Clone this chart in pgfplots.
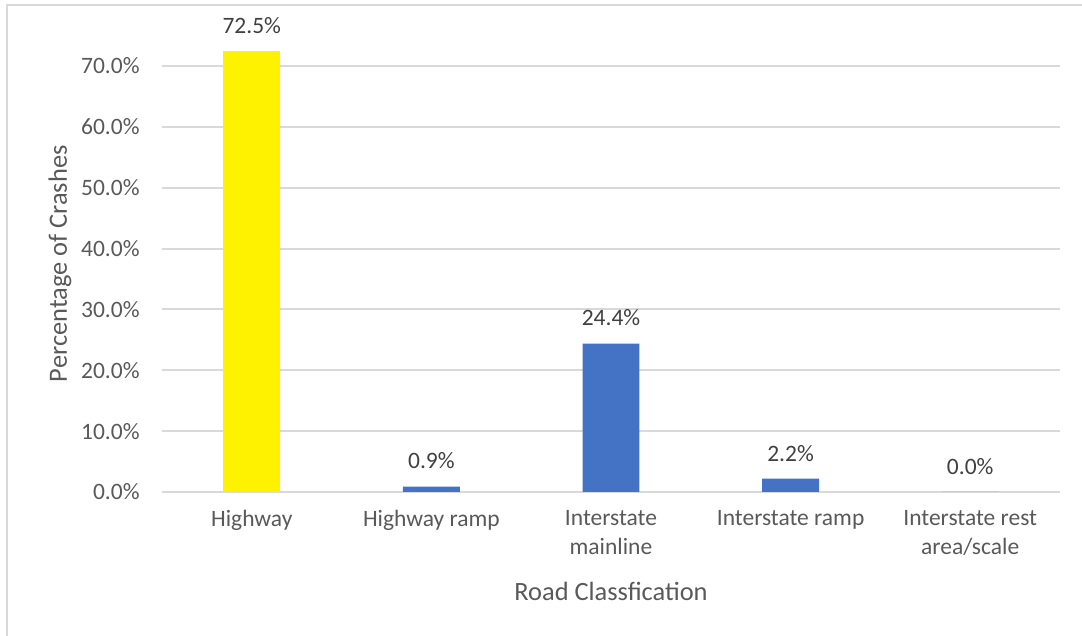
\documentclass[border=0pt]{standalone}
\usepackage{fontspec}
\setmainfont{Carlito}
\usepackage{pgfplots}
\pgfplotsset{compat=1.18}
\definecolor{barblue}{HTML}{4472C4}
\definecolor{gridgray}{HTML}{D9D9D9}
\definecolor{ticktext}{HTML}{595959}
\definecolor{labeltext}{HTML}{404040}
\begin{document}
\begin{tikzpicture}
\useasboundingbox (0,0) rectangle (541pt,318pt);
\draw[gridgray, line width=1pt] (3.5pt,0) -- (3.5pt,315.5pt) -- (541pt,315.5pt);
\begin{axis}[
  at={(81pt,72pt)}, anchor=south west,
  scale only axis, width=449pt, height=228.2pt,
  xmin=-0.5, xmax=4.5, ymin=0, ymax=75,
  axis line style={draw=none},
  major tick length=0pt,
  ymajorgrids, grid style={gridgray, line width=1pt},
  xtick={0,1,2,3,4},
  xticklabels={Highway, Highway ramp, Interstate\\mainline, Interstate ramp, Interstate rest\\area/scale},
  ytick={0,10,...,70},
  yticklabel={\pgfmathprintnumber[fixed,fixed zerofill,precision=1,assume math mode=true]{\tick}\%},
  xticklabel style={align=center, inner sep=0pt, yshift=-9pt, font=\fontsize{11.75}{14.3}\selectfont, text=ticktext},
  yticklabel style={inner sep=0pt, xshift=-11pt, font=\fontsize{11.75}{14.3}\selectfont, text=ticktext},
  xlabel={Road Classfication},
  ylabel={Percentage of Crashes},
  xlabel style={at={(axis description cs:0.5,-0.217)}, anchor=center, font=\fontsize{13.2}{16}\selectfont, text=ticktext},
  ylabel style={at={(axis description cs:-0.1136,0.5)}, anchor=center, font=\fontsize{13.2}{16}\selectfont, text=ticktext},
  ybar, bar width=0.317,
  nodes near coords={\pgfmathprintnumber[fixed,fixed zerofill,precision=1,assume math mode=true]{\pgfplotspointmeta}\%},
  every node near coord/.append style={anchor=base, inner sep=0pt, yshift=8.8pt, font=\fontsize{11.75}{14.3}\selectfont, text=labeltext},
  clip=false,
]
\addplot[fill=yellow, draw=none, bar shift=0pt] coordinates {(0,72.5)};
\addplot[fill=barblue, draw=none, bar shift=0pt] coordinates {(1,0.9) (2,24.4) (3,2.2) (4,0.0)};
\end{axis}
\end{tikzpicture}
\end{document}
